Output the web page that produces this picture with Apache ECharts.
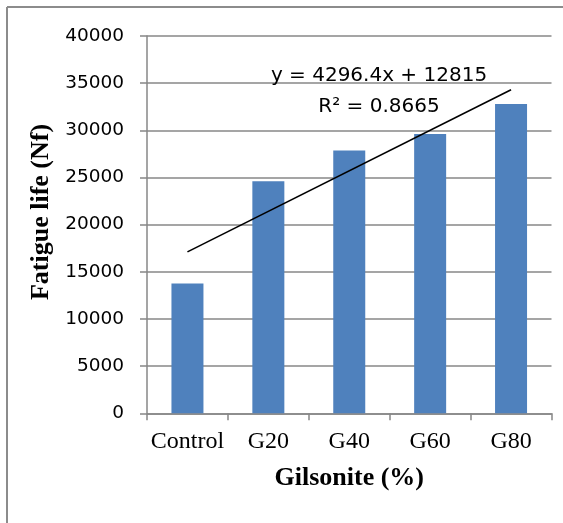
<!DOCTYPE html>
<html>
<head>
<meta charset="utf-8">
<script src="https://cdn.jsdelivr.net/npm/echarts@6/dist/echarts.min.js"></script>
<style>
html,body{margin:0;padding:0;background:#fff;}
#chart{width:563px;height:523px;}
</style>
</head>
<body>
<div id="chart"></div>
<script>
var categories = ['Control', 'G20', 'G40', 'G60', 'G80'];
var fatigueLife = [13750, 24600, 27850, 29600, 32800];
// linear trendline end values (y = 4296.4x + 12815 at x=1 and x=5)
var trendStart = 17111;
var trendEnd = 34297;
var equationText = 'y = 4296.4x + 12815';
var r2Text = 'R² = 0.8665';
var yTitle = 'Fatigue life (Nf)';
var xTitle = 'Gilsonite (%)';

var trendData = categories.map(function (c, i) {
  if (i === 0) return trendStart;
  if (i === categories.length - 1) return trendEnd;
  return null;
});

var gray = '#878787';
var chart = echarts.init(document.getElementById('chart'), null, {renderer: 'canvas'});
chart.setOption({
  animation: false,
  backgroundColor: '#fff',
  grid: {left: 147, right: 11.5, top: 36, bottom: 109.7, containLabel: false},
  xAxis: {
    type: 'category',
    data: categories,
    boundaryGap: true,
    axisLine: {show: true, lineStyle: {color: gray, width: 1.5}},
    axisTick: {show: true, length: 7, alignWithLabel: false, interval: 0, lineStyle: {color: gray, width: 1.5}},
    axisLabel: {interval: 0, margin: 16, fontFamily: 'Liberation Serif', fontSize: 24, color: '#000'},
    name: xTitle,
    nameLocation: 'middle',
    nameGap: 52,
    nameTextStyle: {fontFamily: 'Liberation Serif', fontWeight: 'bold', fontSize: 26, color: '#000'}
  },
  yAxis: {
    type: 'value',
    min: 0,
    max: 40000,
    interval: 5000,
    axisLine: {show: true, lineStyle: {color: gray, width: 1.5}},
    axisTick: {show: true, length: 7, lineStyle: {color: gray, width: 1.5}},
    splitLine: {show: true, lineStyle: {color: gray, width: 1.5}},
    axisLabel: {margin: 23, fontFamily: 'DejaVu Sans', fontSize: 18.5, color: '#000',
      formatter: function (v) { return String(v); }}
  },
  series: [
    {
      type: 'bar',
      data: fatigueLife,
      barWidth: 32,
      itemStyle: {color: '#4f81bd'}
    },
    {
      type: 'line',
      data: trendData,
      connectNulls: true,
      showSymbol: false,
      symbol: 'none',
      lineStyle: {color: '#000', width: 1.6},
      z: 5
    }
  ],
  graphic: [
    {type: 'line', shape: {x1: 7, y1: 7, x2: 563, y2: 7}, style: {stroke: '#8c8c8c', lineWidth: 2}},
    {type: 'line', shape: {x1: 7, y1: 7, x2: 7, y2: 523}, style: {stroke: '#8c8c8c', lineWidth: 2}},
    {type: 'text', x: 41.7, y: 212, rotation: Math.PI / 2,
      style: {text: yTitle, font: 'bold 26px "Liberation Serif"', fill: '#000', textAlign: 'center', textVerticalAlign: 'middle'}},
    {type: 'text', x: 379, y: 76, z: 10,
      style: {text: equationText, font: '20px "DejaVu Sans"', fill: '#000', textAlign: 'center', textVerticalAlign: 'middle'}},
    {type: 'text', x: 379, y: 107, z: 10,
      style: {text: r2Text, font: '20px "DejaVu Sans"', fill: '#000', textAlign: 'center', textVerticalAlign: 'middle'}}
  ]
});
</script>
</body>
</html>
